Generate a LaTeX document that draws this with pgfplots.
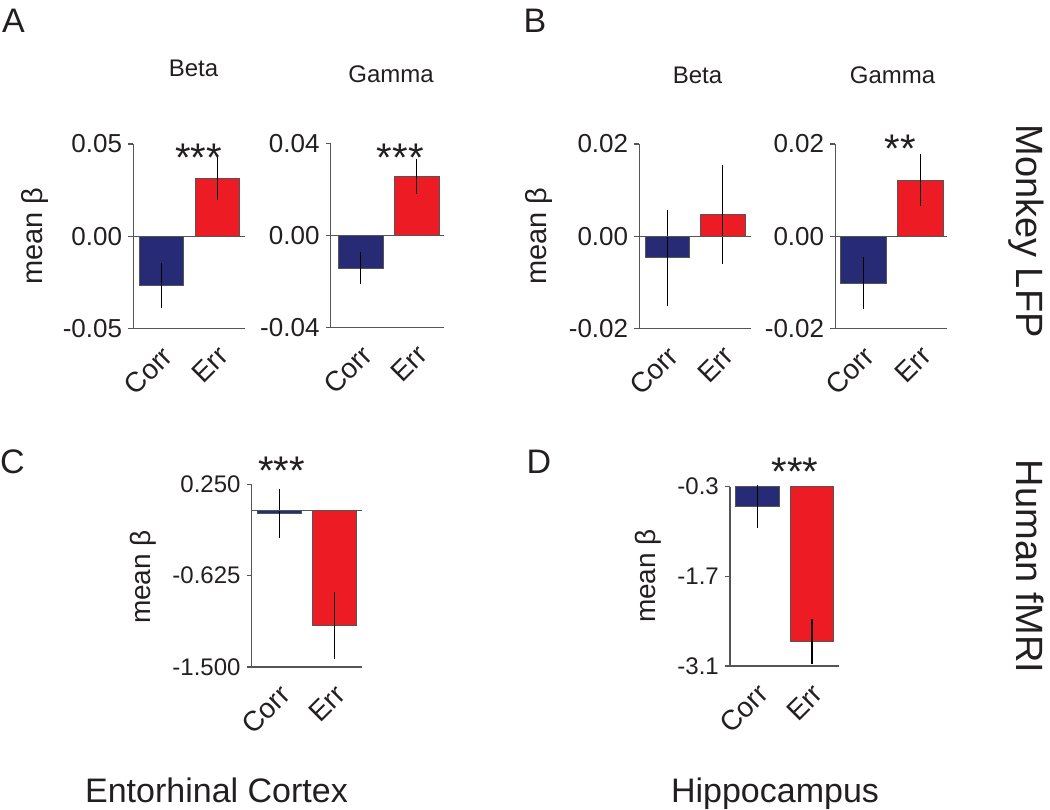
\documentclass[border=0pt]{standalone}
\usepackage{pgfplots}
\pgfplotsset{compat=1.18}
\usepackage{fontspec}
\setmainfont{Liberation Sans}
\definecolor{navy}{HTML}{272A75}
\definecolor{bred}{HTML}{ED1C24}
\definecolor{axgray}{HTML}{555555}
\definecolor{txt}{HTML}{231F20}
\newcommand{\fs}[1]{\fontsize{#1}{#1}\selectfont}
\pgfplotsset{
  panel/.style={
    scale only axis, anchor=south west,
    axis x line*=bottom, axis y line*=left,
    axis line style={draw=axgray, line width=1.2pt, -},
    xtick={0,1}, xticklabels={Corr,Err},
    x tick style={draw=none},
    y tick style={draw=axgray, line width=1.2pt},
    major tick length=5pt, tick align=outside,
    scaled y ticks=false,
    xticklabel style={xshift=-1pt, yshift=-11pt, rotate=45, anchor=north east, font=\fs{28}, text=txt, inner sep=0pt},
    yticklabel style={font=\fs{#1}, text=txt, inner sep=0pt, anchor=east, xshift=-6pt},
    /pgf/number format/assume math mode=true,
    clip=false,
  },
  panel/.default=26,
  eb/.style={error bars/.cd, y dir=both, y explicit, error mark=none,
     error bar style={draw=black, line width=1.2pt}},
  cbar/.style={ybar, bar shift=0pt, bar width=#1, fill=navy, draw=axgray, line width=0.8pt, eb},
  ebar/.style={ybar, bar shift=0pt, bar width=#1, fill=bred, draw=axgray, line width=0.8pt, eb},
}
\begin{document}
\begin{tikzpicture}
\path[use as bounding box] (0pt,0pt) rectangle (1050pt,-809pt);

% ---------- A Beta ----------
\begin{axis}[panel, at={(133.3pt,-328.3pt)}, width=111.7pt, height=184.3pt,
  xmin=-0.507, xmax=1.500, ymin=-0.05, ymax=0.05,
  ytick={-0.05,0,0.05}, yticklabels={-0.05,0.00,0.05}]
\addplot[cbar=44.4pt] coordinates {(0,-0.0266) +- (0,0.0123)};
\addplot[ebar=44.4pt] coordinates {(1,0.0314) +- (0,0.0120)};
\addplot[axgray, line width=1.2pt] coordinates {(-0.507,0) (1.500,0)};
\end{axis}

% ---------- A Gamma ----------
\begin{axis}[panel, at={(330.7pt,-327.3pt)}, width=113.6pt, height=184pt,
  xmin=-0.540, xmax=1.499, ymin=-0.04, ymax=0.04,
  ytick={-0.04,0,0.04}, yticklabels={-0.04,0.00,0.04}]
\addplot[cbar=45pt] coordinates {(0,-0.0143) +- (0,0.0069)};
\addplot[ebar=45pt] coordinates {(1,0.0256) +- (0,0.0076)};
\addplot[axgray, line width=1.2pt] coordinates {(-0.540,0) (1.499,0)};
\end{axis}

% ---------- B Beta ----------
\begin{axis}[panel, at={(639.3pt,-328.3pt)}, width=111.7pt, height=184.3pt,
  xmin=-0.502, xmax=1.507, ymin=-0.02, ymax=0.02,
  ytick={-0.02,0,0.02}, yticklabels={-0.02,0.00,0.02}]
\addplot[cbar=44.3pt] coordinates {(0,-0.0047) +- (0,0.01045)};
\addplot[ebar=44.3pt] coordinates {(1,0.0047) +- (0,0.01085)};
\addplot[axgray, line width=1.2pt] coordinates {(-0.502,0) (1.507,0)};
\end{axis}

% ---------- B Gamma ----------
\begin{axis}[panel, at={(835.3pt,-328.3pt)}, width=111.7pt, height=184.3pt,
  xmin=-0.487, xmax=1.462, ymin=-0.02, ymax=0.02,
  ytick={-0.02,0,0.02}, yticklabels={-0.02,0.00,0.02}]
\addplot[cbar=46pt] coordinates {(0,-0.0102) +- (0,0.0056)};
\addplot[ebar=46pt] coordinates {(1,0.0122) +- (0,0.0056)};
\addplot[axgray, line width=1.2pt] coordinates {(-0.487,0) (1.462,0)};
\end{axis}

% ---------- C ----------
\begin{axis}[panel=24, at={(251.7pt,-667pt)}, width=110.3pt, height=182.7pt,
  xmin=-0.5, xmax=1.498, ymin=-1.5, ymax=0.25,
  ytick={-1.5,-0.625,0.25}, yticklabels={-1.500,-0.625,0.250}]
\addplot[cbar=44.7pt] coordinates {(0,-0.032) +- (0,0.235)};
\addplot[ebar=44.7pt] coordinates {(1,-1.10) +- (0,0.32)};
\addplot[axgray, line width=1.2pt] coordinates {(-0.5,0) (1.498,0)};
\end{axis}

% ---------- D ----------
\begin{axis}[panel=24, at={(730pt,-666pt)}, width=109pt, height=179.3pt,
  xmin=-0.5, xmax=1.496, ymin=-3.1, ymax=-0.3,
  ytick={-3.1,-1.7,-0.3}, yticklabels={-3.1,-1.7,-0.3}]
\addplot[fill=navy, draw=axgray, line width=0.8pt] coordinates {(-0.398,-0.3) (-0.398,-0.60) (0.398,-0.60) (0.398,-0.3)} -- cycle;
\addplot[fill=bred, draw=axgray, line width=0.8pt] coordinates {(0.602,-0.3) (0.602,-2.72) (1.398,-2.72) (1.398,-0.3)} -- cycle;
\addplot[draw=none, mark=none, eb] coordinates {(0,-0.61) +- (0,0.33) (1,-2.715) +- (0,0.355)};
\end{axis}

% ---------- texts ----------
\begin{scope}[every node/.style={text=txt}]
\node[anchor=base west, inner sep=0pt, font=\fs{34}] at (2pt,-32pt) {A};
\node[anchor=base west, inner sep=0pt, font=\fs{34}] at (523.5pt,-32pt) {B};
\node[anchor=base west, inner sep=0pt, font=\fs{34}] at (0pt,-473pt) {C};
\node[anchor=base west, inner sep=0pt, font=\fs{34}] at (526.5pt,-473pt) {D};

\node[anchor=base, inner sep=0pt, font=\fs{24}] at (193.5pt,-76pt) {Beta};
\node[anchor=base, inner sep=0pt, font=\fs{24}] at (391pt,-82pt) {Gamma};
\node[anchor=base, inner sep=0pt, font=\fs{24}] at (697.5pt,-83pt) {Beta};
\node[anchor=base, inner sep=0pt, font=\fs{24}] at (892.5pt,-83pt) {Gamma};

\node[anchor=north, inner sep=0pt, font=\fs{40}] at (198.5pt,-143.3pt) {***};
\node[anchor=north, inner sep=0pt, font=\fs{40}] at (400.3pt,-143.3pt) {***};
\node[anchor=north, inner sep=0pt, font=\fs{40}] at (900.5pt,-135pt) {**};
\node[anchor=north, inner sep=0pt, font=\fs{40}] at (281.7pt,-457pt) {***};
\node[anchor=north, inner sep=0pt, font=\fs{40}] at (795pt,-458pt) {***};

\node[rotate=90, anchor=base, inner sep=0pt, font=\fs{29}] at (42pt,-236pt) {mean β};
\node[rotate=90, anchor=base, inner sep=0pt, font=\fs{29}] at (546pt,-236pt) {mean β};
\node[rotate=90, anchor=base, inner sep=0pt, font=\fs{28}] at (150pt,-577pt) {mean β};
\node[rotate=90, anchor=base, inner sep=0pt, font=\fs{28}] at (655pt,-576pt) {mean β};

\node[rotate=-90, anchor=base, inner sep=0pt, font=\fs{38}] at (1016pt,-231pt) {Monkey LFP};
\node[rotate=-90, anchor=base, inner sep=0pt, font=\fs{38}] at (1016pt,-566.5pt) {Human fMRI};

\node[anchor=base, inner sep=0pt, font=\fs{34}] at (216.5pt,-802pt) {Entorhinal Cortex};
\node[anchor=base, inner sep=0pt, font=\fs{34}] at (775pt,-802pt) {Hippocampus};
\end{scope}
\end{tikzpicture}
\end{document}
